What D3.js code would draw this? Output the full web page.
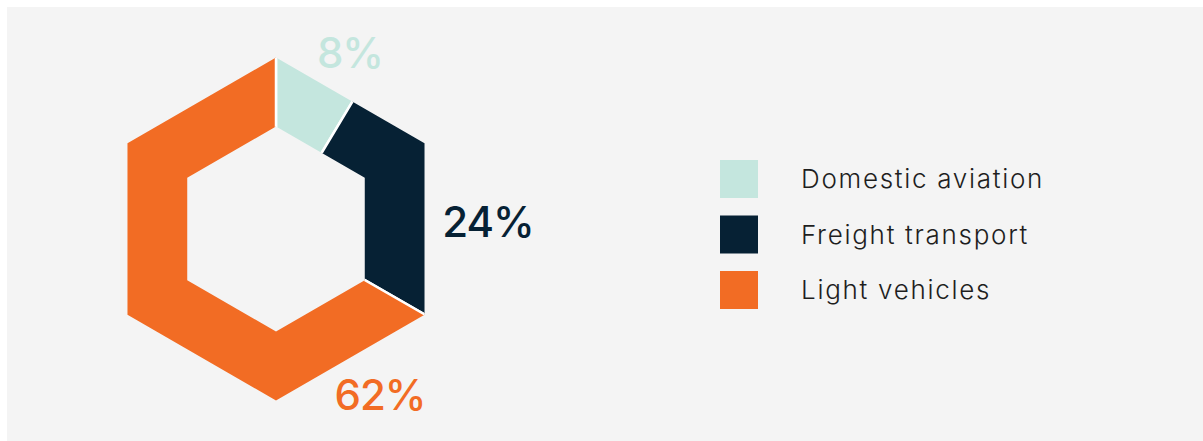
<!DOCTYPE html>
<html>
<head>
<meta charset="utf-8">
<script src="https://cdn.jsdelivr.net/npm/d3@7"></script>
<style>
  html, body { margin: 0; padding: 0; background: #ffffff; }
  #chart { width: 1203px; height: 441px; }
</style>
</head>
<body>
<div id="chart"></div>
<script>
// données
const categories = ["Domestic aviation", "Freight transport", "Light vehicles"];
// parts mesurées sur les angles de l'hexagone (les étiquettes restent celles affichées)
const shares = [8.6, 24.7, 66.7];
const shareLabels = ["8%", "24%", "62%"];
const colors = ["#c4e6de", "#062134", "#f26c24"];

const W = 1203, H = 441;
const cx = 276, cy = 229;          // centre de l'hexagone
const rOuter = 171.5, rInner = 102.5;

const svg = d3.select("#chart").append("svg")
    .attr("width", W)
    .attr("height", H);

// fond gris
svg.append("rect")
    .attr("x", 7).attr("y", 7)
    .attr("width", W - 7).attr("height", H - 7)
    .attr("fill", "#f4f4f4");

// hexagone (pointe en haut)
function hexPath(r) {
    const pts = d3.range(6).map(i => {
        const a = i * Math.PI / 3;
        return [cx + r * Math.sin(a), cy - r * Math.cos(a)];
    });
    return "M" + pts.map(p => p.join(",")).join("L") + "Z";
}

svg.append("clipPath")
    .attr("id", "hex-ring")
  .append("path")
    .attr("d", hexPath(rOuter) + hexPath(rInner))
    .attr("clip-rule", "evenodd");

const pie = d3.pie().sort(null).value(d => d);
const arcs = pie(shares);
const arc = d3.arc().innerRadius(0).outerRadius(260);

svg.append("g")
    .attr("clip-path", "url(#hex-ring)")
  .append("g")
    .attr("transform", `translate(${cx},${cy})`)
  .selectAll("path")
    .data(arcs)
    .join("path")
      .attr("d", arc)
      .attr("fill", (d, i) => colors[i])
      .attr("stroke", "#ffffff")
      .attr("stroke-width", 2.5)
      .attr("stroke-linejoin", "miter");

// étiquettes de pourcentage (décalages par rapport au centre)
const labelOffsets = [[74, -161], [212, 8], [104, 181]];
svg.append("g")
  .selectAll("text")
    .data(arcs)
    .join("text")
      .attr("x", (d, i) => cx + labelOffsets[i][0])
      .attr("y", (d, i) => cy + labelOffsets[i][1])
      .attr("text-anchor", "middle")
      .style("font-family", "Inter, 'Noto Sans', sans-serif")
      .style("font-size", "42px")
      .style("font-weight", 500)
      .style("letter-spacing", "-1px")
      .style("fill", (d, i) => colors[i])
      .text((d, i) => shareLabels[i]);

// légende
const legend = svg.append("g")
    .attr("transform", "translate(720,160)");

const item = legend.selectAll("g")
    .data(categories)
    .join("g")
      .attr("transform", (d, i) => `translate(0,${i * 55.5})`);

item.append("rect")
    .attr("width", 38)
    .attr("height", 38)
    .attr("fill", (d, i) => colors[i]);

item.append("text")
    .attr("x", 81)
    .attr("y", 19)
    .attr("dy", "0.35em")
    .style("font-family", "Inter, 'Noto Sans', sans-serif")
    .style("font-size", "26px")
    .style("font-weight", 300)
    .style("letter-spacing", "1.7px")
    .style("fill", "#1e1e1e")
    .text(d => d);
</script>
</body>
</html>
